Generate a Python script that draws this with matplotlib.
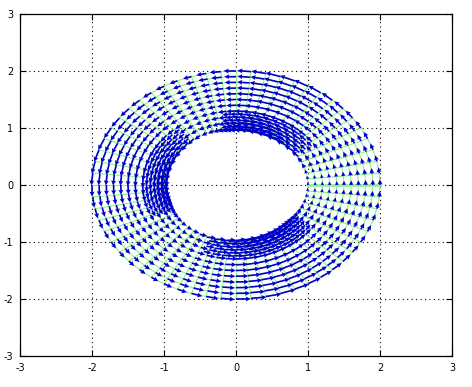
import numpy as np
import matplotlib
matplotlib.use("Agg")
import matplotlib.pyplot as plt

# ---- data ----
radii = [1.0, 1.1, 1.2, 1.3, 1.4, 1.5, 1.6, 1.7, 1.8, 1.9, 2.0]   # mesh rings
angles_deg = list(range(0, 360, 6))                                   # mesh spokes
refined_radii = [1.05, 1.15, 1.25]      # extra (refined) nodes near the hole
refined_angles_deg = list(range(3, 360, 6))
heavy_centers_deg = [65, 165, 285]      # sectors where arrows are long / crowded
heavy_width_deg = [25, 28, 28]
light_level = 0.45                      # relative arrow length in quiet sectors
heavy_level = 1.05                      # relative arrow length in busy sectors
inner_boost = 2.0                       # extra length next to the hole
inward_tilt = 0.9                       # inward radial part next to the hole
ticks = [-3, -2, -1, 0, 1, 2, 3]
tick_labels = ['-3', '-2', '-1', '0', '1', '2', '3']

# ---- figure ----
fig = plt.figure(figsize=(4.72, 3.87), dpi=100)
ax = fig.add_axes([20/472, 31/387, 432/472, 342/387])
ax.set_xlim(-3, 3)
ax.set_ylim(-3, 3)

for t in ticks[1:-1]:
    ax.axvline(t, color='k', lw=0.8, ls=(0, (1, 3)), zorder=0)
    ax.axhline(t, color='k', lw=0.8, ls=(0, (1, 3)), zorder=0)

r = np.array(radii)
th = np.deg2rad(np.array(angles_deg + [360]))
green = '#8ef08e'
for rr in r:
    ax.plot(rr*np.cos(th), rr*np.sin(th), color=green, lw=0.8, zorder=1)
for t in th:
    ax.plot(r*np.cos(t), r*np.sin(t), color=green, lw=0.8, zorder=1)
ax.plot(r, np.zeros_like(r), color=green, lw=1.8, zorder=1)


def field(R, T):
    w = np.zeros_like(T)
    for c, wd in zip(heavy_centers_deg, heavy_width_deg):
        d = np.angle(np.exp(1j*(T - np.deg2rad(c))))
        w = np.maximum(w, np.exp(-0.5*(d/np.deg2rad(wd))**2))
    base = R*np.deg2rad(6)
    decay = np.exp(-(R - 1.0)/0.17)
    mag = base*(light_level + (heavy_level - light_level)*w)*(1 + inner_boost*w*decay)
    rad = -inward_tilt*base*w*decay
    U = -mag*np.sin(T) + rad*np.cos(T)
    V = mag*np.cos(T) + rad*np.sin(T)
    return U, V, w


R, T = np.meshgrid(r, np.deg2rad(np.array(angles_deg)))
U, V, _ = field(R, T)
R2, T2 = np.meshgrid(np.array(refined_radii), np.deg2rad(np.array(refined_angles_deg)))
U2, V2, w2 = field(R2, T2)
keep = w2 > 0.4
Xa = np.concatenate([(R*np.cos(T)).ravel(), (R2*np.cos(T2))[keep]])
Ya = np.concatenate([(R*np.sin(T)).ravel(), (R2*np.sin(T2))[keep]])
Ua = np.concatenate([U.ravel(), U2[keep]])
Va = np.concatenate([V.ravel(), V2[keep]])

ax.quiver(Xa, Ya, Ua, Va, angles='xy', scale_units='xy', scale=1,
          color='#0000c8', width=0.0038, headwidth=3.0, headlength=3.0,
          headaxislength=2.7, zorder=2)

ax.set_xticks(ticks)
ax.set_yticks(ticks)
ax.set_xticklabels(tick_labels)
ax.set_yticklabels(tick_labels)
ax.tick_params(direction='in', length=4, width=0.8, labelsize=7,
               top=True, right=True, pad=5)
for s in ax.spines.values():
    s.set_linewidth(0.9)

fig.savefig('out.png', dpi=100)
